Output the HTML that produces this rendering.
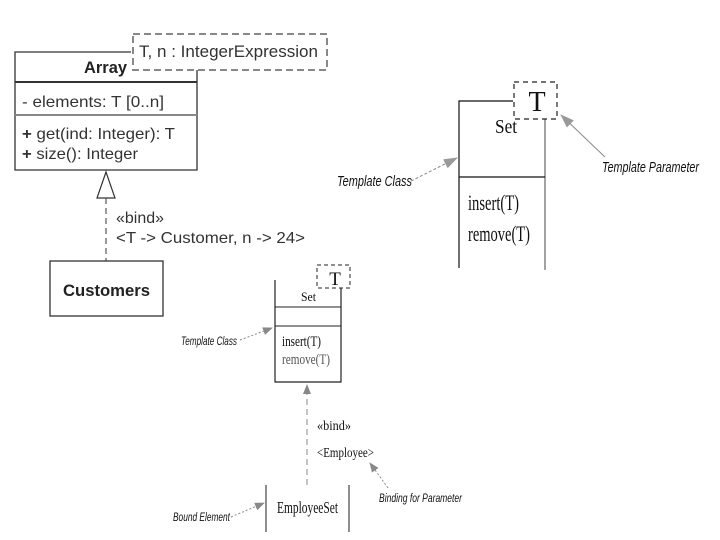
<!DOCTYPE html>
<html><head><meta charset="utf-8"><style>html,body{margin:0;padding:0;background:#fff}svg{display:block}</style></head>
<body>
<svg width="720" height="540" viewBox="0 0 720 540" xmlns="http://www.w3.org/2000/svg">
<defs>
<marker id="ah" markerWidth="10" markerHeight="8" refX="9" refY="4" orient="auto" markerUnits="userSpaceOnUse"><path d="M0,0 L10,4 L0,8 Z" fill="#888"/></marker>
<marker id="ahs" markerWidth="14" markerHeight="10" refX="13" refY="5" orient="auto" markerUnits="userSpaceOnUse"><path d="M0,0 L14,5 L0,10 Z" fill="#999"/></marker>
</defs>
<g font-family="Liberation Sans, sans-serif" fill="#222">
<path d="M131,52 H15 V170 H197 V70" fill="none" stroke="#333" stroke-width="1.3"/>
<line x1="15" y1="82" x2="197" y2="82" stroke="#333" stroke-width="2"/>
<line x1="15" y1="115" x2="197" y2="115" stroke="#888" stroke-width="2"/>
<rect x="133" y="34" width="194" height="36" fill="#fff" stroke="#888" stroke-width="2" stroke-dasharray="7,4"/>
<text x="139" y="57" font-size="17" fill="#333" textLength="179" lengthAdjust="spacingAndGlyphs">T, n : IntegerExpression</text>
<text x="84" y="73" font-size="17" font-weight="bold" textLength="43" lengthAdjust="spacingAndGlyphs">Array</text>
<text x="22" y="107" font-size="16" fill="#333" textLength="142" lengthAdjust="spacingAndGlyphs">- elements: T [0..n]</text>
<text x="22" y="139" font-size="16" fill="#333" textLength="153" lengthAdjust="spacingAndGlyphs"><tspan font-weight="bold">+</tspan> get(ind: Integer): T</text>
<text x="22" y="159" font-size="16" fill="#333" textLength="116" lengthAdjust="spacingAndGlyphs"><tspan font-weight="bold">+</tspan> size(): Integer</text>
<path d="M106,172 L97,198 H115 Z" fill="#fff" stroke="#333" stroke-width="1.2"/>
<line x1="106" y1="198" x2="106" y2="261" stroke="#555" stroke-width="1.2" stroke-dasharray="6,4"/>
<text x="116" y="223" font-size="16" fill="#333" textLength="48" lengthAdjust="spacingAndGlyphs">«bind»</text>
<text x="116" y="243" font-size="16" fill="#333" textLength="189" lengthAdjust="spacingAndGlyphs">&lt;T -&gt; Customer, n -&gt; 24&gt;</text>
<rect x="50" y="261" width="113" height="55" fill="#fff" stroke="#333" stroke-width="1.3"/>
<text x="63" y="296" font-size="17" font-weight="bold" textLength="87" lengthAdjust="spacingAndGlyphs">Customers</text>
</g>
<g font-family="Liberation Serif, serif" fill="#111">
<path d="M513,101 H459 V268" fill="none" stroke="#111" stroke-width="1.2"/>
<line x1="545" y1="119" x2="545" y2="270" stroke="#666" stroke-width="1.2"/>
<line x1="459" y1="177" x2="545" y2="177" stroke="#111" stroke-width="1.2"/>
<rect x="514" y="82" width="43" height="37" fill="#fff" stroke="#222" stroke-width="1.2" stroke-dasharray="5,4"/>
<text x="537" y="111" font-size="28" text-anchor="middle">T</text>
<text x="495" y="133" font-size="20" textLength="22" lengthAdjust="spacingAndGlyphs">Set</text>
<text x="468" y="210" font-size="22" textLength="51" lengthAdjust="spacingAndGlyphs">insert(T)</text>
<text x="468" y="241" font-size="22" textLength="62" lengthAdjust="spacingAndGlyphs">remove(T)</text>
<line x1="411" y1="181" x2="457" y2="158" stroke="#888" stroke-dasharray="3,2" marker-end="url(#ahs)"/>
<text x="337" y="186" font-size="15" font-style="italic" font-family="Liberation Sans, sans-serif" textLength="75" lengthAdjust="spacingAndGlyphs">Template Class</text>
<line x1="605" y1="157" x2="561" y2="115" stroke="#888" marker-end="url(#ahs)"/>
<text x="602" y="172" font-size="15" font-style="italic" font-family="Liberation Sans, sans-serif" textLength="97" lengthAdjust="spacingAndGlyphs">Template Parameter</text>
<path d="M275,280 V382 H341 V288" fill="none" stroke="#222" stroke-width="1.2"/>
<line x1="275" y1="307" x2="341" y2="307" stroke="#222"/>
<line x1="275" y1="326" x2="341" y2="326" stroke="#222"/>
<rect x="317" y="265" width="33" height="23" fill="#fff" stroke="#222" stroke-dasharray="4,3"/>
<text x="335" y="285" font-size="19" text-anchor="middle">T</text>
<text x="301" y="301" font-size="13" textLength="15" lengthAdjust="spacingAndGlyphs">Set</text>
<text x="282" y="346" font-size="15" textLength="39" lengthAdjust="spacingAndGlyphs">insert(T)</text>
<text x="282" y="364" font-size="15" fill="#555" textLength="48" lengthAdjust="spacingAndGlyphs">remove(T)</text>
<line x1="240" y1="340" x2="272" y2="328" stroke="#888" stroke-dasharray="2,2" marker-end="url(#ah)"/>
<text x="181" y="345" font-size="12" font-style="italic" font-family="Liberation Sans, sans-serif" textLength="56" lengthAdjust="spacingAndGlyphs">Template Class</text>
<line x1="307" y1="485" x2="307" y2="385" stroke="#888" stroke-dasharray="6,4" marker-end="url(#ah)"/>
<text x="317" y="430" font-size="14" textLength="34" lengthAdjust="spacingAndGlyphs">«bind»</text>
<text x="317" y="457" font-size="14" textLength="57" lengthAdjust="spacingAndGlyphs">&lt;Employee&gt;</text>
<line x1="388" y1="488" x2="370" y2="463" stroke="#888" stroke-dasharray="2,2" marker-end="url(#ah)"/>
<text x="379" y="502" font-size="12" font-style="italic" font-family="Liberation Sans, sans-serif" textLength="83" lengthAdjust="spacingAndGlyphs">Binding for Parameter</text>
<line x1="266" y1="485" x2="266" y2="532" stroke="#444" stroke-width="1.2"/>
<line x1="349" y1="485" x2="349" y2="532" stroke="#444" stroke-width="1.2"/>
<text x="277" y="513" font-size="17" textLength="61" lengthAdjust="spacingAndGlyphs">EmployeeSet</text>
<line x1="231" y1="517" x2="264" y2="503" stroke="#888" stroke-dasharray="2,2" marker-end="url(#ah)"/>
<text x="173" y="521" font-size="12" font-style="italic" font-family="Liberation Sans, sans-serif" textLength="57" lengthAdjust="spacingAndGlyphs">Bound Element</text>
</g>
</svg>
</body></html>
